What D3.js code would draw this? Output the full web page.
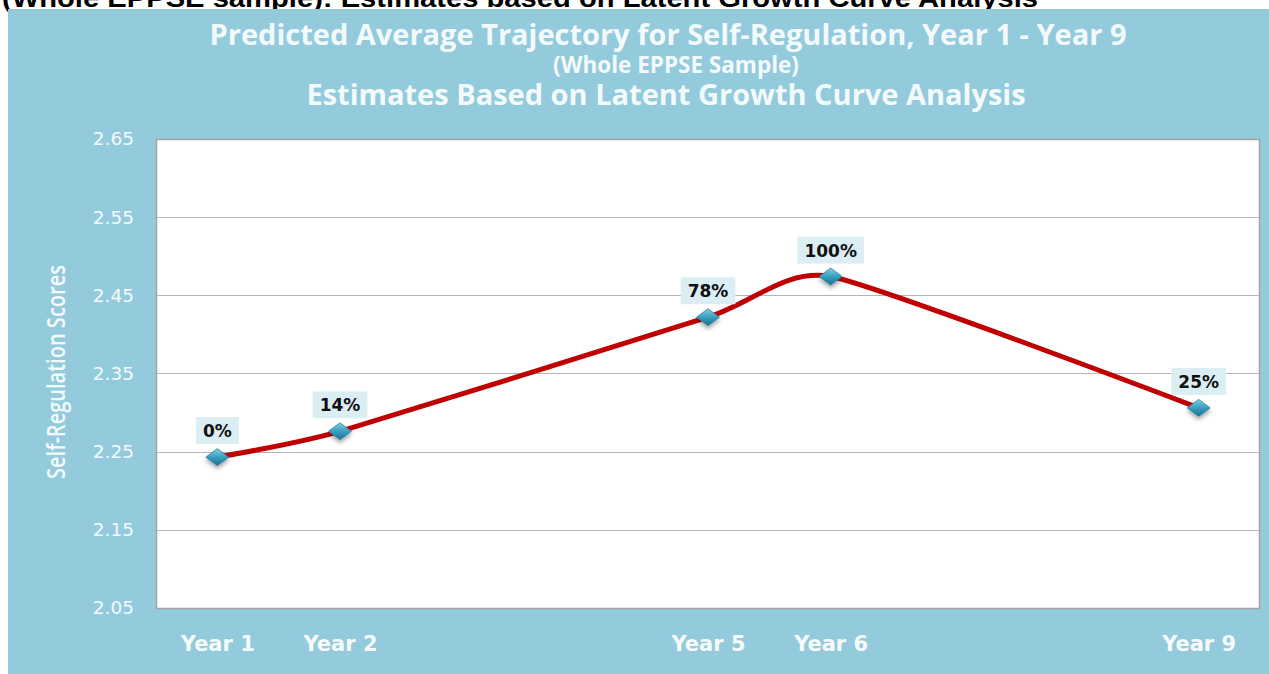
<!DOCTYPE html>
<html>
<head>
<meta charset="utf-8">
<script src="https://cdn.jsdelivr.net/npm/d3@7"></script>
<style>
  html, body { margin: 0; padding: 0; background: #ffffff; }
  svg { display: block; }
</style>
</head>
<body>
<svg id="chart" width="1269" height="674"></svg>
<script>
// ---- data ----
const categories = ["Year 1", "Year 2", "Year 5", "Year 6", "Year 9"];
const yearNumbers = [1, 2, 5, 6, 9];
const scores = [2.243, 2.276, 2.422, 2.474, 2.306];
const pointLabels = ["0%", "14%", "78%", "100%", "25%"];
const yTicks = [2.05, 2.15, 2.25, 2.35, 2.45, 2.55, 2.65];
const titleLines = [
  "Predicted Average Trajectory for Self-Regulation, Year 1 - Year 9",
  "(Whole EPPSE Sample)",
  "Estimates Based on Latent Growth Curve Analysis"
];
const yAxisTitle = "Self-Regulation Scores";
const topCaption = "(Whole EPPSE sample): Estimates based on Latent Growth Curve Analysis";

// ---- layout ----
const W = 1269, H = 674;
const plot = { left: 156, right: 1260, top: 139, bottom: 608 };
const svg = d3.select("#chart");

const defs = svg.append("defs");
const grad = defs.append("linearGradient").attr("id", "mk").attr("x1", 0).attr("y1", 0).attr("x2", 0).attr("y2", 1);
grad.append("stop").attr("offset", "0%").attr("stop-color", "#7fd0e6");
grad.append("stop").attr("offset", "50%").attr("stop-color", "#3a9ec0");
grad.append("stop").attr("offset", "100%").attr("stop-color", "#1d6e8c");
const sh = defs.append("filter").attr("id", "shadow").attr("x", "-50%").attr("y", "-50%").attr("width", "200%").attr("height", "200%");
sh.append("feDropShadow").attr("dx", 0).attr("dy", 3).attr("stdDeviation", 2).attr("flood-color", "#000").attr("flood-opacity", 0.35);

// cropped caption at very top (partially hidden by panel, as in the source screenshot)
svg.append("text")
  .attr("x", 2).attr("y", 7)
  .attr("font-family", "Liberation Sans, Arial, sans-serif")
  .attr("font-weight", "bold")
  .attr("font-size", 25)
  .attr("fill", "#000")
  .attr("textLength", 1036)
  .attr("lengthAdjust", "spacingAndGlyphs")
  .text(topCaption);

// blue panel
svg.append("rect").attr("x", 8).attr("y", 9).attr("width", W - 8).attr("height", H - 9).attr("fill", "#93cbdc");

// titles
const titleSpecs = [
  { x: 668, y: 45, size: 29 },
  { x: 676, y: 73, size: 22.5 },
  { x: 666, y: 105, size: 29 }
];
svg.append("g").selectAll("text").data(titleLines).join("text")
  .attr("x", (d, i) => titleSpecs[i].x)
  .attr("y", (d, i) => titleSpecs[i].y)
  .attr("text-anchor", "middle")
  .attr("font-family", "Open Sans, sans-serif")
  .attr("font-weight", "bold")
  .attr("font-size", (d, i) => titleSpecs[i].size)
  .attr("fill", "#f3fafc")
  .text(d => d);

// plot background
svg.append("rect")
  .attr("x", plot.left).attr("y", plot.top)
  .attr("width", plot.right - plot.left).attr("height", plot.bottom - plot.top)
  .attr("fill", "#ffffff");

// scales
const x = d3.scaleLinear().domain([0.5, 9.5]).range([plot.left, plot.right]);
const y = d3.scaleLinear().domain([2.05, 2.65]).range([plot.bottom, plot.top]);

// gridlines
svg.append("g").selectAll("line").data(yTicks).join("line")
  .attr("x1", plot.left).attr("x2", plot.right)
  .attr("y1", d => Math.round(y(d)) + 0.5).attr("y2", d => Math.round(y(d)) + 0.5)
  .attr("stroke", "#b4b4b4").attr("stroke-width", 1.2);

// plot border
svg.append("rect")
  .attr("x", plot.left + 0.5).attr("y", plot.top + 0.5)
  .attr("width", plot.right - plot.left - 1).attr("height", plot.bottom - plot.top)
  .attr("fill", "none").attr("stroke", "#a3a3a3").attr("stroke-width", 1.5);

// y axis (labels only)
const yAxis = d3.axisLeft(y).tickValues(yTicks).tickFormat(d3.format(".2f")).tickSize(0).tickPadding(0);
const yg = svg.append("g").attr("transform", `translate(${plot.left - 22},0)`).call(yAxis);
yg.select(".domain").remove();
yg.selectAll("text")
  .attr("font-family", "DejaVu Sans, Verdana, sans-serif")
  .attr("font-size", 18.5)
  .attr("fill", "#f4fafc");

// x axis (labels only)
const xAxis = d3.axisBottom(x).tickValues(yearNumbers).tickFormat((d, i) => categories[i]).tickSize(0).tickPadding(0);
const xg = svg.append("g").attr("transform", `translate(0,${plot.bottom + 28})`).call(xAxis);
xg.select(".domain").remove();
xg.selectAll("text")
  .attr("font-family", "DejaVu Sans, Verdana, sans-serif")
  .attr("font-weight", "bold")
  .attr("font-size", 21)
  .attr("fill", "#f6fbfd");

// y axis title
svg.append("text")
  .attr("transform", `translate(65,372) rotate(-90)`)
  .attr("text-anchor", "middle")
  .attr("font-family", "Open Sans, sans-serif")
  .attr("font-weight", 600)
  .attr("font-size", 25)
  .attr("fill", "#f4fafc")
  .attr("textLength", 214)
  .attr("lengthAdjust", "spacingAndGlyphs")
  .text(yAxisTitle);

// data
const pts = yearNumbers.map((yr, i) => ({ yr, v: scores[i], label: pointLabels[i] }));

// smoothed line
const line = d3.line().x(d => x(d.yr)).y(d => y(d.v)).curve(d3.curveCardinal.tension(0.45));
svg.append("path").datum(pts)
  .attr("d", line)
  .attr("fill", "none")
  .attr("stroke", "#c00000")
  .attr("stroke-width", 5)
  .attr("stroke-linejoin", "round")
  .attr("stroke-linecap", "round");

// data labels
const lg = svg.append("g").selectAll("g").data(pts).join("g")
  .attr("transform", d => `translate(${x(d.yr)},${y(d.v)})`);
const lt = lg.append("text")
  .attr("y", -20)
  .attr("text-anchor", "middle")
  .attr("font-family", "DejaVu Sans, Verdana, sans-serif")
  .attr("font-weight", "bold")
  .attr("font-size", 17)
  .attr("fill", "#111")
  .text(d => d.label);
lt.each(function () {
  const w = this.getComputedTextLength();
  d3.select(this.parentNode).insert("rect", "text")
    .attr("x", -w / 2 - 7).attr("y", -40)
    .attr("width", w + 14).attr("height", 27)
    .attr("fill", "#dbeef4");
});

// markers
svg.append("g").selectAll("path").data(pts).join("path")
  .attr("transform", d => `translate(${x(d.yr)},${y(d.v)})`)
  .attr("d", "M0,-8.5 L11.5,0 L0,8.5 L-11.5,0 Z")
  .attr("fill", "url(#mk)")
  .attr("stroke", "#2a85a5")
  .attr("stroke-width", 0.8)
  .attr("filter", "url(#shadow)");
</script>
</body>
</html>
